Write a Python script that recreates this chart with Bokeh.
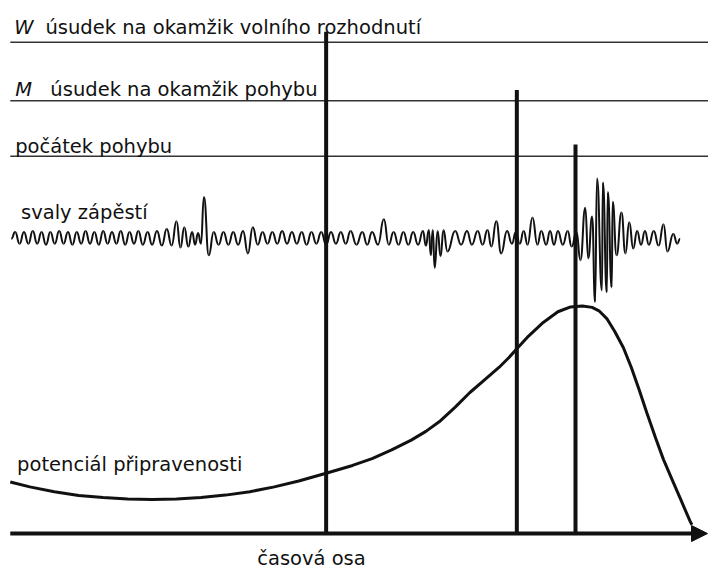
from bokeh.plotting import figure
from bokeh.models import ColumnDataSource, Range1d, Arrow, NormalHead
from bokeh.core.properties import value
from bokeh.embed import file_html
from bokeh.resources import INLINE

# ---- data (reference pixel coordinates, y grows downward) ----
rule_y = [43, 103, 160]
rule_x0 = [10, 10, 10]
rule_x1 = [724, 724, 724]

event_x = [333, 528, 588]
event_top = [32, 92, 148]
axis_y = 548
axis_x0 = 10
axis_x1 = 723

rp_x = [10, 30, 55, 80, 105, 130, 155, 180, 205, 230, 255, 280, 305, 333, 360, 380,
        400, 420, 435, 450, 465, 480, 495, 510, 520, 528, 540, 555, 570, 583, 595,
        605, 612, 620, 628, 637, 645, 653, 661, 670, 678, 687, 696, 705, 707]
rp_y = [495, 500, 505, 509, 511, 512.5, 513, 512.5, 511, 508.5, 505, 500, 494, 486, 478, 471,
        462, 452, 443, 432, 418, 403, 390, 377, 367, 358, 345, 331, 320, 315, 314,
        315.5, 319, 327, 340, 357, 377, 400, 424, 450, 472, 493, 514, 535, 539]

# EMG extrema (alternating peaks and troughs)
emg_x = [11, 15, 19.5, 24, 28.5, 33, 37.5, 42, 46.5, 51, 55.5, 60, 64.5, 69, 73.5, 78, 82.5,
         87, 91.5, 96, 100.5, 105, 109.5, 114, 118.5, 123, 127.5, 132, 136.5, 141, 145.5,
         150.5, 155, 160, 165, 170, 175, 180, 184, 188, 192, 196, 199, 202, 205, 208, 213,
         218, 223, 228, 233, 238, 243, 248, 253, 258, 263, 268, 273, 278, 283, 288, 293,
         298, 303, 308, 313, 318, 323, 328, 333, 338, 343, 348, 353, 358, 364, 370, 375,
         380, 386, 392, 397, 402, 407, 412, 417, 422, 427, 432, 435, 438, 440, 442, 444,
         447, 450, 453, 457, 465, 471, 477, 482, 488, 493, 498, 502, 507, 512, 518, 523,
         527, 531, 535, 539, 544, 549, 553, 558, 562, 566, 570, 575, 580, 584, 589, 593,
         598, 601, 605, 608, 610, 615, 616, 620, 621, 625, 626, 630, 635, 639, 643, 647,
         651, 655, 659, 663, 668, 673, 678, 682, 688, 692, 695]
emg_y = [245, 238, 250, 238, 250, 237, 250, 238, 251, 238, 250, 237, 250, 238, 251, 238, 250,
         237, 250, 238, 251, 237, 250, 238, 250, 237, 251, 238, 250, 237, 251,
         238, 251, 237, 252, 235, 252, 227, 254, 233, 253, 238, 251, 239, 250, 202, 262,
         238, 251, 238, 251, 238, 251, 237, 260, 233, 251, 238, 250, 238, 250, 237, 250,
         238, 250, 238, 251, 238, 250, 238, 251, 238, 250, 238, 250, 237, 251, 238, 251,
         238, 251, 225, 251, 238, 251, 238, 251, 238, 251, 237, 252, 236, 262, 236, 275,
         237, 263, 236, 258, 237, 251, 237, 251, 237, 251, 236, 253, 227, 260, 237, 250,
         238, 250, 237, 251, 223, 251, 237, 251, 237, 251, 237, 251, 237, 253, 238, 267,
         213, 265, 222, 310, 183, 298, 187, 300, 197, 295, 207, 262, 218, 260, 228, 255,
         237, 251, 237, 251, 237, 252, 230, 258, 240, 250, 245]

labels = ["úsudek na okamžik volního rozhodnutí", "úsudek na okamžik pohybu",
          "počátek pohybu", "svaly zápěstí", "potenciál připravenosti"]
label_x = [46, 51, 15, 21, 17]
label_y = [28, 92, 150, 218, 477]
italic_labels = ["W", "M"]
italic_x = [14, 15]
italic_y = [28, 92]
caption = "časová osa"
caption_x = 318
caption_y = 574

FONT = "DejaVu Sans"
SIZE = "19.5px"

p = figure(width=708, height=570, output_backend="svg", toolbar_location=None,
           x_range=Range1d(0, 724), y_range=Range1d(586, 0), min_border=0)
p.axis.visible = False
p.grid.visible = False
p.outline_line_color = None
p.background_fill_color = "white"
p.border_fill_color = "white"

# horizontal rules
p.segment(x0=rule_x0, y0=rule_y, x1=rule_x1, y1=rule_y, line_color="#333333", line_width=1.5)

# readiness potential
p.line(rp_x, rp_y, line_color="#111111", line_width=3)

# EMG trace as smooth half-waves between extrema
bx0 = emg_x[:-1]; by0 = emg_y[:-1]; bx1 = emg_x[1:]; by1 = emg_y[1:]
cx0 = [a + (b - a) * 0.5 for a, b in zip(bx0, bx1)]
cx1 = [b - (b - a) * 0.5 for a, b in zip(bx0, bx1)]
src = ColumnDataSource(dict(x0=bx0, y0=by0, x1=bx1, y1=by1, cx0=cx0, cy0=by0, cx1=cx1, cy1=by1))
p.bezier(x0="x0", y0="y0", x1="x1", y1="y1", cx0="cx0", cy0="cy0", cx1="cx1", cy1="cy1",
         source=src, line_color="#111111", line_width=2)

# event verticals
p.segment(x0=event_x, y0=event_top, x1=event_x, y1=[axis_y] * len(event_x),
          line_color="#111111", line_width=4)

# time axis with arrow
p.add_layout(Arrow(end=NormalHead(size=16, fill_color="#111111", line_color="#111111"),
                   x_start=axis_x0, y_start=axis_y, x_end=axis_x1, y_end=axis_y,
                   line_color="#111111", line_width=4))

# texts
p.text(x=italic_x, y=italic_y, text=italic_labels, text_font=value(FONT), text_font_size=SIZE,
       text_font_style="italic", text_color="#111111", text_baseline="alphabetic")
p.text(x=label_x, y=label_y, text=labels, text_font=value(FONT), text_font_size=SIZE,
       text_color="#111111", text_baseline="alphabetic")
p.text(x=[caption_x], y=[caption_y], text=[caption], text_font=value(FONT), text_font_size=SIZE,
       text_color="#111111", text_baseline="alphabetic", text_align="center")

open("out.html", "w").write(file_html(p, INLINE))
